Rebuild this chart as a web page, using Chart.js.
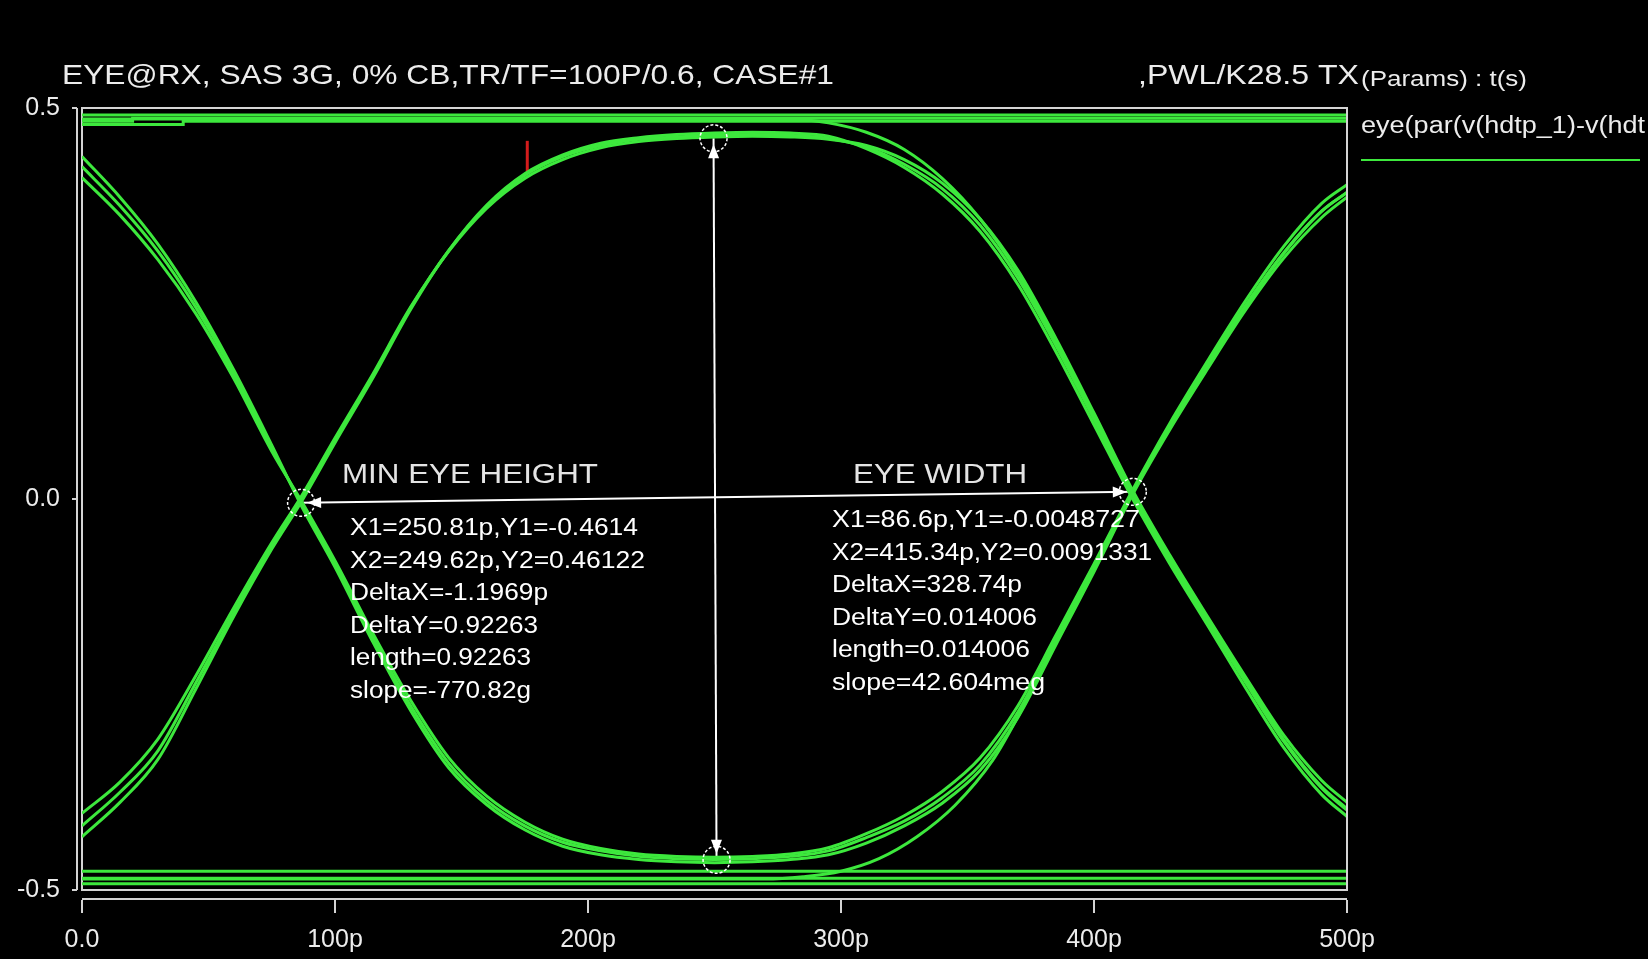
<!DOCTYPE html>
<html>
<head>
<meta charset="utf-8">
<title>EYE@RX, SAS 3G</title>
<script src="https://cdn.jsdelivr.net/npm/chart.js@4.4.1/dist/chart.umd.min.js"></script>
<style>
  html, body { margin: 0; padding: 0; background: #000; }
  #wrap { width: 1648px; height: 959px; }
</style>
</head>
<body>
<div id="wrap"><canvas id="eye" width="1648" height="959"></canvas></div>
<script>
// time in ps, voltage in V
const tGrid = [0, 15, 30, 45, 60, 75, 86.6, 100, 115, 130, 145, 160, 175, 190, 205, 220, 235, 250,
               265, 280, 295, 310, 325, 340, 355, 370, 385, 400, 415.3, 430, 445, 460, 475, 490, 500];

// "upper" traces: rise, sit near +0.46, fall again
const vUpperA = [-0.418, -0.375, -0.322, -0.235, -0.145, -0.060, 0.000, 0.075, 0.158, 0.245, 0.318, 0.374,
                 0.414, 0.438, 0.452, 0.460, 0.463, 0.465, 0.466, 0.465, 0.461, 0.450, 0.428, 0.397,
                 0.350, 0.282, 0.196, 0.102, 0.005, -0.078, -0.157, -0.235, -0.310, -0.370, -0.398];
const vUpperB = [-0.402, -0.362, -0.307, -0.226, -0.139, -0.056, 0.003, 0.078, 0.160, 0.246, 0.317, 0.372,
                 0.410, 0.434, 0.449, 0.457, 0.461, 0.463, 0.464, 0.463, 0.460, 0.452, 0.434, 0.404,
                 0.358, 0.292, 0.205, 0.110, 0.011, -0.072, -0.151, -0.228, -0.302, -0.360, -0.388];
const vUpperC = [-0.432, -0.388, -0.333, -0.243, -0.150, -0.064, -0.004, 0.072, 0.155, 0.243, 0.318, 0.376,
                 0.416, 0.440, 0.455, 0.462, 0.466, 0.468, 0.469, 0.468, 0.464, 0.448, 0.424, 0.390,
                 0.342, 0.274, 0.188, 0.095, 0.000, -0.083, -0.162, -0.242, -0.318, -0.378, -0.406];

// "lower" traces: fall, sit near -0.46, rise again
const vLowerA = [0.425, 0.375, 0.317, 0.245, 0.160, 0.065, -0.005, -0.083, -0.178, -0.265, -0.338, -0.386,
                 -0.418, -0.439, -0.450, -0.457, -0.460, -0.461, -0.460, -0.457, -0.450, -0.433, -0.412, -0.382,
                 -0.340, -0.272, -0.180, -0.088, 0.009, 0.093, 0.172, 0.248, 0.315, 0.368, 0.392];
const vLowerB = [0.411, 0.363, 0.306, 0.237, 0.154, 0.061, -0.002, -0.079, -0.172, -0.258, -0.331, -0.380,
                 -0.413, -0.435, -0.447, -0.454, -0.457, -0.458, -0.457, -0.454, -0.446, -0.428, -0.405, -0.374,
                 -0.331, -0.264, -0.174, -0.083, 0.012, 0.097, 0.177, 0.254, 0.323, 0.378, 0.402];
const vLowerC = [0.438, 0.386, 0.326, 0.252, 0.165, 0.069, -0.008, -0.087, -0.183, -0.271, -0.344, -0.391,
                 -0.423, -0.444, -0.455, -0.461, -0.464, -0.465, -0.464, -0.461, -0.455, -0.440, -0.418, -0.389,
                 -0.347, -0.279, -0.186, -0.093, 0.006, 0.089, 0.167, 0.242, 0.308, 0.360, 0.386];

// long runs (K28.5) sitting on the rails
const tFlat = [0, 500];
const vTopRail1 = [0.491, 0.491];
const tTopRail2 = [0, 20, 20, 500];
const vTopRail2 = [0.483, 0.483, 0.487, 0.487];
const tTopRail3 = [0, 40, 40, 500];
const vTopRail3 = [0.479, 0.479, 0.483, 0.483];
const vBotRail1 = [-0.476, -0.476];
const vBotRail2 = [-0.485, -0.485];
const vBotRail3 = [-0.492, -0.492];

// rail -> transition traces
const tRailFall = [0, 280, 295, 310, 325, 340, 355, 370, 385, 400, 415.3, 430, 445, 460, 475, 490, 500];
const vRailFall = [0.486, 0.486, 0.481, 0.469, 0.447, 0.410, 0.358, 0.288, 0.199, 0.104, 0.007, -0.075,
                   -0.154, -0.232, -0.308, -0.368, -0.396];
const tRailRise = [0, 270, 285, 300, 315, 330, 345, 360, 370, 385, 400, 415.3, 430, 445, 460, 475, 490, 500];
const vRailRise = [-0.486, -0.486, -0.483, -0.476, -0.460, -0.432, -0.392, -0.334, -0.278, -0.183, -0.090,
                   0.008, 0.092, 0.171, 0.247, 0.314, 0.368, 0.392];

// cursor measurements
const tHeight = [249.62, 250.81];
const vHeight = [0.46122, -0.4614];
const tWidth = [86.6, 415.34];
const vWidth = [-0.0048727, 0.0091331];
const tMarker = [176, 176];
const vMarker = [0.416, 0.458];

const xTicks = [0, 100, 200, 300, 400, 500];
const yTicks = [-0.5, 0, 0.5];

const heightLines = ['X1=250.81p,Y1=-0.4614', 'X2=249.62p,Y2=0.46122', 'DeltaX=-1.1969p',
                     'DeltaY=0.92263', 'length=0.92263', 'slope=-770.82g'];
const widthLines = ['X1=86.6p,Y1=-0.0048727', 'X2=415.34p,Y2=0.0091331', 'DeltaX=328.74p',
                    'DeltaY=0.014006', 'length=0.014006', 'slope=42.604meg'];

const GREEN = '#3de83d';
const AXIS = '#d4d4d4';
const TEXT = '#ececec';
const FONT = "'Liberation Sans', Arial, sans-serif";

function pts(ts, vs) {
  return ts.map((t, i) => ({ x: t, y: vs[i] }));
}

function trace(ts, vs, color = GREEN, width = 3) {
  return {
    data: pts(ts, vs),
    borderColor: color,
    borderWidth: width,
    pointRadius: 0,
    cubicInterpolationMode: 'monotone',
    tension: 0.4,
    fill: false
  };
}

function cursor(ts, vs, color = '#ffffff', width = 2) {
  return { data: pts(ts, vs), borderColor: color, borderWidth: width, pointRadius: 0, tension: 0, fill: false };
}

// draws text squeezed/stretched to a given pixel width
function stretchText(ctx, str, x, y, font, width) {
  ctx.save();
  ctx.font = font;
  const w = ctx.measureText(str).width;
  ctx.translate(x, y);
  ctx.scale(width ? width / w : 1, 1);
  ctx.fillText(str, 0, 0);
  ctx.restore();
}

function arrowHead(ctx, x, y, dx, dy) {
  const len = 14, half = 5.5;
  const bx = x - dx * len, by = y - dy * len;
  ctx.beginPath();
  ctx.moveTo(x, y);
  ctx.lineTo(bx - dy * half, by + dx * half);
  ctx.lineTo(bx + dy * half, by - dx * half);
  ctx.closePath();
  ctx.fill();
}

const eyeDecor = {
  id: 'eyeDecor',
  beforeDraw(chart) {
    const { ctx } = chart;
    ctx.save();
    ctx.fillStyle = '#000';
    ctx.fillRect(0, 0, chart.width, chart.height);
    ctx.restore();
  },
  afterDraw(chart) {
    const { ctx, chartArea: a, scales: { x, y } } = chart;
    ctx.save();

    // frame top/right + offset axis lines
    ctx.strokeStyle = AXIS;
    ctx.lineWidth = 2;
    ctx.beginPath();
    ctx.moveTo(a.left, a.top); ctx.lineTo(a.right, a.top); ctx.lineTo(a.right, a.bottom);
    ctx.moveTo(a.left - 5, a.top); ctx.lineTo(a.left - 5, a.bottom);
    ctx.moveTo(a.left, a.bottom + 9); ctx.lineTo(a.right, a.bottom + 9);
    ctx.stroke();

    // cursor circles
    ctx.strokeStyle = '#ffffff';
    ctx.lineWidth = 1.5;
    ctx.setLineDash([3, 2]);
    const ends = [[tWidth[0], vWidth[0]], [tWidth[1], vWidth[1]], [tHeight[0], vHeight[0]], [tHeight[1], vHeight[1]]];
    ends.forEach(([t, v]) => {
      ctx.beginPath();
      ctx.arc(x.getPixelForValue(t), y.getPixelForValue(v), 13.5, 0, Math.PI * 2);
      ctx.stroke();
    });
    ctx.setLineDash([]);

    // arrow heads, pointing outwards along each cursor line
    ctx.fillStyle = '#ffffff';
    const pair = (ts, vs) => {
      const x0 = x.getPixelForValue(ts[0]), y0 = y.getPixelForValue(vs[0]);
      const x1 = x.getPixelForValue(ts[1]), y1 = y.getPixelForValue(vs[1]);
      const d = Math.hypot(x1 - x0, y1 - y0);
      const ux = (x1 - x0) / d, uy = (y1 - y0) / d;
      arrowHead(ctx, x0 + ux * 6, y0 + uy * 6, -ux, -uy);
      arrowHead(ctx, x1 - ux * 6, y1 - uy * 6, ux, uy);
    };
    pair(tWidth, vWidth);
    pair(tHeight, vHeight);

    // title
    ctx.fillStyle = TEXT;
    ctx.textBaseline = 'alphabetic';
    stretchText(ctx, 'EYE@RX, SAS 3G, 0% CB,TR/TF=100P/0.6, CASE#1', 62, 84, '28px ' + FONT, 772);
    stretchText(ctx, ',PWL/K28.5 TX', 1138, 84, '28px ' + FONT, 221);
    stretchText(ctx, '(Params) : t(s)', 1361, 86, '22px ' + FONT, 166);

    // legend
    stretchText(ctx, 'eye(par(v(hdtp_1)-v(hdt', 1361, 133, '23px ' + FONT, 284);
    ctx.strokeStyle = GREEN;
    ctx.lineWidth = 2;
    ctx.beginPath();
    ctx.moveTo(1361, 160); ctx.lineTo(1640, 160);
    ctx.stroke();

    // measurement read-outs
    ctx.fillStyle = '#e4e4e4';
    stretchText(ctx, 'MIN EYE HEIGHT', 342, 483, '27px ' + FONT, 256);
    stretchText(ctx, 'EYE WIDTH', 853, 483, '27px ' + FONT, 174);
    ctx.fillStyle = '#ffffff';
    const hw = [288, 295, 198, 188, 181, 181];
    heightLines.forEach((s, i) => stretchText(ctx, s, 350, 535 + i * 32.5, '23px ' + FONT, hw[i]));
    const ww = [308, 320, 190, 205, 198, 213];
    widthLines.forEach((s, i) => stretchText(ctx, s, 832, 527 + i * 32.5, '23px ' + FONT, ww[i]));

    ctx.restore();
  }
};

const datasets = [
  trace(tFlat, vTopRail1), trace(tTopRail2, vTopRail2), trace(tTopRail3, vTopRail3),
  trace(tFlat, vBotRail1), trace(tFlat, vBotRail2), trace(tFlat, vBotRail3),
  trace(tRailFall, vRailFall), trace(tRailRise, vRailRise),
  trace(tGrid, vUpperA), trace(tGrid, vUpperB), trace(tGrid, vUpperC),
  trace(tGrid, vLowerA), trace(tGrid, vLowerB), trace(tGrid, vLowerC),
  cursor(tHeight, vHeight), cursor(tWidth, vWidth),
  cursor(tMarker, vMarker, '#d41c1c', 3)
];

new Chart(document.getElementById('eye'), {
  type: 'line',
  data: { datasets },
  options: {
    responsive: false,
    animation: false,
    events: [],
    layout: { padding: { top: 108, right: 301, left: 0, bottom: 0 } },
    plugins: { legend: { display: false }, tooltip: { enabled: false }, title: { display: false } },
    scales: {
      x: {
        type: 'linear',
        min: 0, max: 500,
        afterFit: s => { s.height = 69; },
        afterBuildTicks: s => { s.ticks = xTicks.map(v => ({ value: v })); },
        ticks: {
          color: TEXT, padding: 12,
          font: { family: FONT, size: 25 },
          callback: v => v === 0 ? '0.0' : v + 'p',
          maxRotation: 0
        },
        grid: {
          drawOnChartArea: false, color: AXIS, lineWidth: 2,
          tickLength: 23, tickBorderDash: [0, 9, 15, 100]
        },
        border: { display: true, color: AXIS, width: 2 }
      },
      y: {
        type: 'linear',
        min: -0.5, max: 0.5,
        afterFit: s => { s.width = 82; },
        afterBuildTicks: s => { s.ticks = yTicks.map(v => ({ value: v })); },
        ticks: {
          color: TEXT, padding: 12,
          font: { family: FONT, size: 25 },
          callback: v => Number(v).toFixed(1)
        },
        grid: {
          drawOnChartArea: false, color: AXIS, lineWidth: 2,
          tickLength: 10, tickBorderDash: [5, 100]
        },
        border: { display: true, color: AXIS, width: 2 }
      }
    }
  },
  plugins: [eyeDecor]
});
</script>
</body>
</html>
